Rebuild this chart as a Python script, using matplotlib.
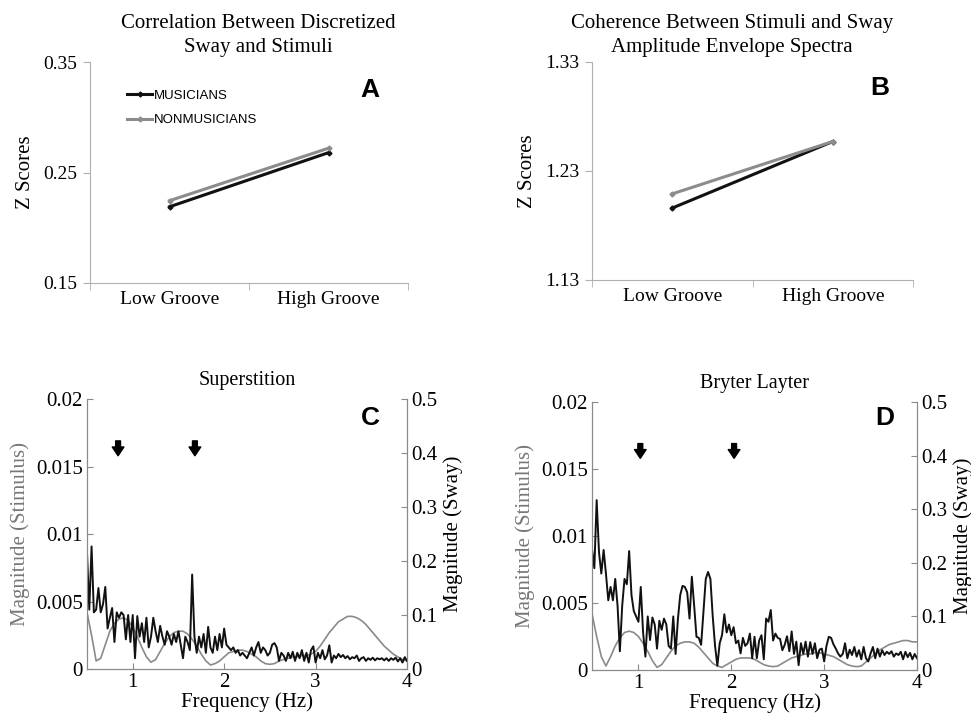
import matplotlib
matplotlib.use("Agg")
import matplotlib.pyplot as plt
import numpy as np

plt.rcParams['font.family'] = 'Liberation Serif'
plt.rcParams['font.size'] = 14

# top panels: z scores
groups = ["Low Groove", "High Groove"]
musicians_corr = [0.219, 0.268]
nonmusicians_corr = [0.2245, 0.272]
musicians_coh = [1.196, 1.257]
nonmusicians_coh = [1.209, 1.257]

# bottom panels: spectra (stimulus every 0.05 Hz, sway every 0.025 Hz, 0.5-4 Hz)
stim_c = [0.0042, 0.0025, 0.0006, 0.0008, 0.0018, 0.0028, 0.0034, 0.0037, 0.0038, 0.0036,
          0.0031, 0.0024, 0.0016, 0.0009, 0.0005, 0.0007, 0.0013, 0.0019, 0.0024, 0.0027,
          0.0028, 0.0028, 0.0026, 0.0022, 0.0017, 0.0011, 0.0006, 0.0003, 0.0004, 0.0006,
          0.0009, 0.0012, 0.0013, 0.0014, 0.0014, 0.0013, 0.0011, 0.0009, 0.0006, 0.0004,
          0.00035, 0.0004, 0.0006, 0.0007, 0.0008, 0.0009, 0.0009, 0.001, 0.001, 0.0011,
          0.0013, 0.0017, 0.0022, 0.0027, 0.0031, 0.0035, 0.0037, 0.0039, 0.0039, 0.0038,
          0.0036, 0.0033, 0.0029, 0.0025, 0.0021, 0.0017, 0.0014, 0.0011, 0.0009, 0.0007,
          0.0006]
sway_c = [0.215, 0.11, 0.227, 0.105, 0.11, 0.15, 0.105, 0.12, 0.152, 0.075,
          0.095, 0.113, 0.05, 0.105, 0.095, 0.105, 0.1, 0.055, 0.1, 0.05,
          0.1, 0.02, 0.098, 0.06, 0.085, 0.05, 0.095, 0.04, 0.06, 0.095,
          0.07, 0.05, 0.08, 0.06, 0.045, 0.07, 0.06, 0.045, 0.065, 0.05,
          0.07, 0.045, 0.02, 0.06, 0.05, 0.035, 0.175, 0.06, 0.03, 0.06,
          0.04, 0.065, 0.03, 0.078, 0.04, 0.03, 0.06, 0.035, 0.065, 0.04,
          0.075, 0.045, 0.04, 0.035, 0.04, 0.03, 0.035, 0.025, 0.03, 0.025,
          0.02, 0.03, 0.04, 0.025, 0.04, 0.05, 0.03, 0.04, 0.035, 0.025,
          0.03, 0.045, 0.048, 0.04, 0.015, 0.03, 0.025, 0.015, 0.03, 0.02,
          0.032, 0.015, 0.03, 0.02, 0.035, 0.015, 0.03, 0.012, 0.035, 0.042,
          0.012, 0.03, 0.02, 0.035, 0.018, 0.025, 0.044, 0.012, 0.025, 0.02,
          0.028, 0.022, 0.026, 0.02, 0.024, 0.018, 0.022, 0.02, 0.025, 0.015,
          0.02, 0.022, 0.015, 0.02, 0.017, 0.021, 0.016, 0.02, 0.018, 0.02,
          0.016, 0.02, 0.015, 0.02, 0.017, 0.021, 0.014, 0.02, 0.012, 0.022,
          0.015]
stim_d = [0.0042, 0.0025, 0.0010, 0.0003, 0.0010, 0.0018, 0.0024, 0.0028, 0.0029, 0.0028,
          0.0025, 0.0020, 0.0014, 0.0007, 0.0002, 0.0004, 0.0009, 0.0014, 0.0018, 0.0020,
          0.0021, 0.0021, 0.0020, 0.0017, 0.0013, 0.0009, 0.0005, 0.0003, 0.0002, 0.0004,
          0.0006, 0.0008, 0.0009, 0.0009, 0.0009, 0.0008, 0.0006, 0.0004, 0.0003, 0.00025,
          0.0003, 0.0005, 0.0007, 0.0009, 0.0010, 0.0011, 0.0012, 0.0012, 0.0013, 0.0013,
          0.0012, 0.0011, 0.0010, 0.0008, 0.0006, 0.0004, 0.0003, 0.00025, 0.0003, 0.0006,
          0.0009, 0.0012, 0.0015, 0.0017, 0.0019, 0.0020, 0.0021, 0.0022, 0.0022, 0.0021,
          0.0021]
sway_d = [0.225, 0.19, 0.317, 0.22, 0.18, 0.224, 0.18, 0.13, 0.155, 0.13,
          0.17, 0.12, 0.035, 0.12, 0.17, 0.16, 0.222, 0.14, 0.11, 0.1,
          0.09, 0.155, 0.07, 0.025, 0.1, 0.056, 0.098, 0.085, 0.04, 0.092,
          0.075, 0.096, 0.085, 0.045, 0.04, 0.1, 0.03, 0.095, 0.14, 0.157,
          0.155, 0.145, 0.096, 0.174, 0.12, 0.062, 0.06, 0.047, 0.11, 0.17,
          0.183, 0.17, 0.1, 0.045, 0.008, 0.05, 0.065, 0.104, 0.07, 0.085,
          0.065, 0.08, 0.05, 0.055, 0.031, 0.06, 0.045, 0.05, 0.068, 0.022,
          0.062, 0.022, 0.055, 0.065, 0.02, 0.096, 0.09, 0.112, 0.055, 0.068,
          0.06, 0.058, 0.037, 0.047, 0.063, 0.035, 0.072, 0.03, 0.053, 0.009,
          0.05, 0.03, 0.053, 0.025, 0.052, 0.03, 0.05, 0.022, 0.038, 0.04,
          0.016, 0.045, 0.062, 0.06, 0.048, 0.04, 0.031, 0.025, 0.03, 0.05,
          0.022, 0.038, 0.028, 0.043, 0.025, 0.037, 0.02, 0.043, 0.022, 0.016,
          0.031, 0.043, 0.022, 0.04, 0.025, 0.037, 0.028, 0.034, 0.03, 0.035,
          0.025, 0.031, 0.028, 0.034, 0.02, 0.034, 0.024, 0.032, 0.02, 0.03,
          0.022]
arrows_c = [0.84, 1.68]
arrows_d = [1.02, 2.03]

GRAY = "#8a8a8a"
LIGHT = "#b0b0b0"

fig = plt.figure(figsize=(9.71, 7.15), dpi=100)


def zpanel(rect, m, n, yticks, title, title_x, letter, lx, ly, legend=False):
    ax = fig.add_axes(rect)
    x = np.arange(len(groups))
    ax.plot(x, m, color="#111111", lw=2.2, marker="D", ms=2.5, label="MUSICIANS")
    ax.plot(x, n, color="#8c8c8c", lw=2.2, marker="D", ms=2.5, label="NONMUSICIANS")
    ax.set_xlim(-0.5, 1.5)
    ax.set_ylim(yticks[0], yticks[-1])
    ax.set_yticks(yticks)
    ax.set_yticklabels(["%.2f" % v for v in yticks])
    ax.set_xticks(x)
    ax.set_xticklabels(groups)
    ax.set_xticks([-0.5, 0.5, 1.5], minor=True)
    ax.tick_params(axis="x", which="major", length=0, pad=6)
    ax.tick_params(axis="x", which="minor", length=5, color=LIGHT)
    ax.tick_params(axis="y", length=5, color=LIGHT, pad=4)
    for s in ["top", "right"]:
        ax.spines[s].set_visible(False)
    for s in ["left", "bottom"]:
        ax.spines[s].set_color(LIGHT)
    ax.set_ylabel("Z Scores", fontsize=15, labelpad=6)
    ax.set_title(title, x=title_x, pad=7, fontsize=15, linespacing=1.35)
    ax.text(lx, ly, letter, transform=ax.transAxes, fontsize=19, fontweight="bold",
            family="Liberation Sans", ha="center", va="center")
    if legend:
        ax.legend(loc="upper left", bbox_to_anchor=(0.08, 0.93), frameon=False,
                  prop={"family": "Liberation Sans", "size": 9.5}, handlelength=1.9,
                  handletextpad=0.1, labelspacing=0.95)
    return ax


zpanel([0.0927, 0.6042, 0.3275, 0.309], musicians_corr, nonmusicians_corr,
       [0.15, 0.25, 0.35], "Correlation Between Discretized\nSway and Stimuli", 0.53,
       "A", 0.88, 0.873, legend=True)
zpanel([0.6097, 0.6084, 0.3306, 0.305], musicians_coh, nonmusicians_coh,
       [1.13, 1.23, 1.33], "Coherence Between Stimuli and Sway\nAmplitude Envelope Spectra", 0.435,
       "B", 0.897, 0.88)


def spanel(rect, stim, sway, arrows, title, letter, lx, ly):
    ax = fig.add_axes(rect)
    f_stim = np.linspace(0.5, 4, len(stim))
    f_sway = np.linspace(0.5, 4, len(sway))
    ax.plot(f_stim, stim, color=GRAY, lw=1.2)
    ax.set_xlim(0.5, 4)
    ax.set_ylim(0, 0.02)
    ax.set_yticks([0, 0.005, 0.01, 0.015, 0.02])
    ax.set_yticklabels(["0", "0.005", "0.01", "0.015", "0.02"])
    ax.set_xticks([1, 2, 3, 4])
    ax.set_xticklabels(["1", "2", "3", "4"])
    ax.tick_params(direction="in", length=4, color=GRAY, labelsize=15, pad=3)
    ax.tick_params(axis="x", pad=3)
    ax.spines["top"].set_visible(False)
    for s in ["left", "bottom", "right"]:
        ax.spines[s].set_color(GRAY)
    ax.set_ylabel("Magnitude (Stimulus)", color="#777777", fontsize=15, labelpad=4)
    ax.set_xlabel("Frequency (Hz)", fontsize=15, labelpad=0)
    ax.set_title(title, fontsize=14.5, pad=10)
    for a in arrows:
        ax.annotate("", xy=(a, 0.0158), xytext=(a, 0.0169),
                    arrowprops=dict(arrowstyle="simple,head_length=0.45,head_width=0.6,tail_width=0.25",
                                    color="black", shrinkA=0, shrinkB=0), annotation_clip=False)
    ax.text(lx, ly, letter, transform=ax.transAxes, fontsize=19, fontweight="bold",
            family="Liberation Sans", ha="center", va="center")
    ax2 = ax.twinx()
    ax2.plot(f_sway, sway, color="#111111", lw=1.4)
    ax2.set_ylim(0, 0.5)
    ax2.set_yticks([0, 0.1, 0.2, 0.3, 0.4, 0.5])
    ax2.set_yticklabels(["0", "0.1", "0.2", "0.3", "0.4", "0.5"])
    ax2.tick_params(direction="in", length=4, color=GRAY, labelsize=15, pad=3)
    ax2.spines["top"].set_visible(False)
    for s in ["left", "bottom", "right"]:
        ax2.spines[s].set_color(GRAY)
    ax2.set_ylabel("Magnitude (Sway)", fontsize=15, labelpad=4)
    return ax


spanel([0.0896, 0.0643, 0.3296, 0.3776], stim_c, sway_c, arrows_c, "Superstition", "C", 0.884, 0.93)
spanel([0.6097, 0.0629, 0.3347, 0.3748], stim_d, sway_d, arrows_d, "Bryter Layter", "D", 0.90, 0.94)

fig.savefig("out.png", dpi=100, facecolor="white")
